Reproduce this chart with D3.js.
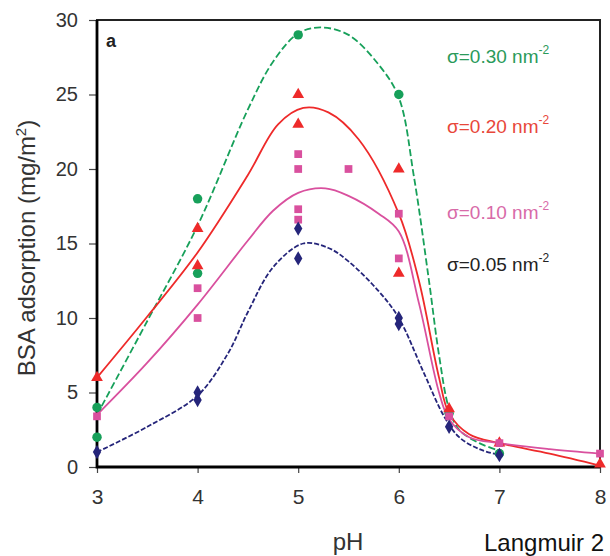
<!DOCTYPE html>
<html>
<head>
<meta charset="utf-8">
<script src="https://cdn.jsdelivr.net/npm/d3@7"></script>
<style>
  body { margin: 0; background: #fff; }
  svg { display: block; font-family: "Liberation Sans", Arial, sans-serif; }
</style>
</head>
<body>
<script>
// Axis ticks
const phTicks = [3, 4, 5, 6, 7, 8];
const yTicks = [0, 5, 10, 15, 20, 25, 30];

// Measured points [pH, adsorption]
const pts030 = [[3, 4], [3, 2], [4, 18], [4, 13], [5, 29], [6, 25], [6.5, 3.6], [7, 0.9]];
const pts020 = [[3, 6], [4, 16], [4, 13.5], [5, 25], [5, 23], [6, 20], [6, 13], [6.5, 3.9], [7, 1.6], [8, 0.2]];
const pts010 = [[3, 3.4], [4, 12], [4, 10], [5, 21], [5, 20], [5, 17.3], [5, 16.6], [5.5, 20], [6, 17], [6, 14], [6.5, 3.4], [7, 1.6], [8, 0.9]];
const pts005 = [[3, 1], [4, 5], [4, 4.5], [5, 16], [5, 14], [6, 10], [6, 9.6], [6.5, 2.7], [7, 0.8]];

// Fitted curves
const fit030 = [[3, 3.5], [3.5, 9.8], [4, 16.2], [4.5, 24], [4.75, 27.2], [5, 29.1], [5.22, 29.5], [5.5, 29], [5.8, 27], [6, 24.8], [6.15, 19.5], [6.3, 12.5], [6.4, 7.5], [6.5, 3.9], [6.6, 2.5], [6.8, 1.6], [7, 1.1]];
const fit020 = [[3, 6], [3.5, 10.1], [4, 14.4], [4.5, 19.6], [4.8, 23], [5.05, 24.1], [5.3, 23.8], [5.6, 22], [6, 17], [6.2, 12.5], [6.4, 6], [6.5, 3.6], [6.7, 2.2], [7, 1.6], [7.5, 0.9], [8, 0.1]];
const fit010 = [[3, 3.5], [3.5, 7], [4, 10.9], [4.5, 15.2], [4.75, 17.2], [5, 18.4], [5.27, 18.7], [5.5, 18.2], [5.8, 17], [6, 15.8], [6.2, 11], [6.4, 5], [6.5, 3.2], [6.7, 2], [7, 1.6], [7.5, 1.2], [8, 0.9]];
const fit005 = [[3, 1], [3.5, 2.7], [4, 4.8], [4.3, 7.6], [4.5, 10.4], [4.75, 13.4], [5.05, 15], [5.3, 14.7], [5.5, 13.8], [5.8, 11.8], [6, 10], [6.25, 6.3], [6.45, 3.4], [6.6, 2], [6.8, 1.2], [7, 0.8]];

const seriesNames = ['0.30', '0.20', '0.10', '0.05'];

const series = [
  { name: seriesNames[0], pts: pts030, fit: fit030, color: '#17a05a', text: '#2a9a5a', shape: d3.symbolCircle, size: 70, dash: '7,3', ly: 63 },
  { name: seriesNames[1], pts: pts020, fit: fit020, color: '#ee2a2a', text: '#e8473a', shape: d3.symbolTriangle, size: 60, dash: null, ly: 133 },
  { name: seriesNames[2], pts: pts010, fit: fit010, color: '#d9509e', text: '#d86aa8', shape: d3.symbolSquare, size: 60, dash: null, ly: 219 },
  { name: seriesNames[3], pts: pts005, fit: fit005, color: '#25257a', text: '#222', shape: d3.symbolDiamond, size: 60, dash: '5,2', ly: 271 }
];

const width = 610, height = 556;

const svg = d3.select('body').append('svg')
  .attr('width', width)
  .attr('height', height);

const x = d3.scaleLinear().domain([3, 8]).range([97, 600]);
const y = d3.scaleLinear().domain([0, 30]).range([467, 20]);

// Y axis
const yAxis = svg.append('g')
  .attr('transform', `translate(${x(3)},0)`)
  .call(d3.axisLeft(y).tickValues(yTicks).tickFormat(d3.format('d')).tickSize(8).tickPadding(11).tickSizeOuter(0));
yAxis.select('.domain').remove();
yAxis.selectAll('text').attr('font-size', 20).attr('fill', '#333').attr('font-family', '"Liberation Sans", Arial');
yAxis.selectAll('line').attr('stroke', '#444').attr('stroke-width', 1.2);

// X axis
const xAxis = svg.append('g')
  .attr('transform', `translate(0,${y(0)})`)
  .call(d3.axisBottom(x).tickValues(phTicks).tickFormat(d3.format('d')).tickSize(6).tickPadding(16).tickSizeOuter(0));
xAxis.select('.domain').remove();
xAxis.selectAll('text').attr('font-size', 21).attr('fill', '#333').attr('font-family', '"Liberation Sans", Arial');
xAxis.selectAll('line').attr('stroke', '#444').attr('stroke-width', 1.2);

// Frame
svg.append('rect')
  .attr('x', x(3)).attr('y', y(30))
  .attr('width', x(8) - x(3)).attr('height', y(0) - y(30))
  .attr('fill', 'none').attr('stroke', '#222').attr('stroke-width', 2);
svg.append('path')
  .attr('d', `M${x(3)},${y(30)}V${y(0)}H${x(8)}`)
  .attr('fill', 'none').attr('stroke', '#000').attr('stroke-width', 2.8);

// Fit lines
const line = d3.line()
  .x(d => x(d[0]))
  .y(d => y(d[1]))
  .curve(d3.curveCatmullRom.alpha(0.5));

series.forEach(s => {
  svg.append('path')
    .datum(s.fit)
    .attr('fill', 'none')
    .attr('stroke', s.color)
    .attr('stroke-width', 1.8)
    .attr('stroke-dasharray', s.dash)
    .attr('d', line);
});

// Markers
series.forEach(s => {
  svg.append('g').selectAll('path')
    .data(s.pts)
    .enter()
    .append('path')
    .attr('transform', d => `translate(${x(d[0])},${y(d[1])})`)
    .attr('d', d3.symbol().type(s.shape).size(s.size))
    .attr('fill', s.color);
});

// Legend labels
series.forEach(s => {
  const t = svg.append('text')
    .attr('x', 447)
    .attr('y', s.ly)
    .attr('font-size', 19)
    .attr('fill', s.text)
    .text(`σ=${s.name} nm`);
  t.append('tspan')
    .attr('font-size', 12)
    .attr('dy', -9)
    .text('-2');
});

// Panel letter
svg.append('text')
  .attr('x', 106).attr('y', 47)
  .attr('font-size', 18).attr('font-weight', 'bold')
  .attr('fill', '#222')
  .text('a');

// Axis titles
const yl = svg.append('text')
  .attr('transform', 'translate(35,248) rotate(-90)')
  .attr('text-anchor', 'middle')
  .attr('font-size', 24)
  .attr('fill', '#333')
  .text('BSA adsorption (mg/m');
yl.append('tspan').attr('font-size', 15).attr('dy', -9).text('2');
yl.append('tspan').attr('dy', 9).text(')');

svg.append('text')
  .attr('x', 348).attr('y', 550)
  .attr('text-anchor', 'middle')
  .attr('font-size', 24)
  .attr('fill', '#333')
  .text('pH');

svg.append('text')
  .attr('x', 484).attr('y', 551)
  .attr('font-size', 24)
  .attr('font-family', '"Liberation Sans", Arial, sans-serif')
  .attr('fill', '#111')
  .text('Langmuir 2');
</script>
</body>
</html>
